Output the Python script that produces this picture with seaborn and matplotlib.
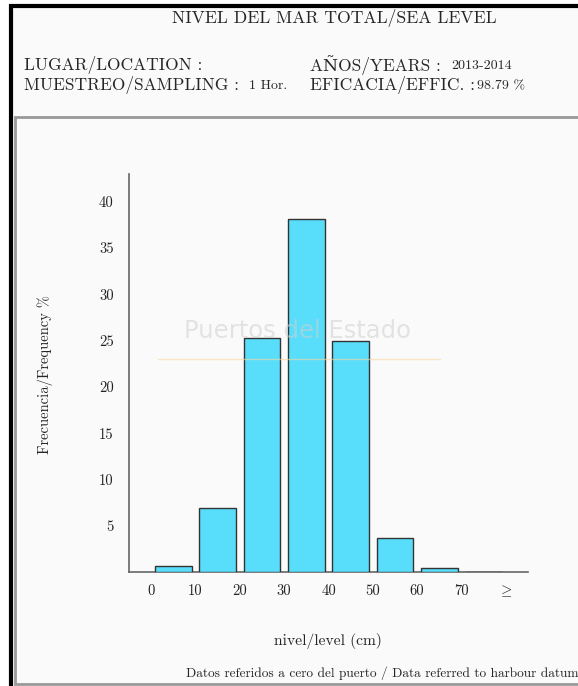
import matplotlib
matplotlib.use("Agg")
import matplotlib.pyplot as plt
import matplotlib.patches as mpatches
import matplotlib.lines as mlines
import pandas as pd
import seaborn as sns

# level bins (cm) and frequency (%)
bin_centers = [5, 15, 25, 35, 45, 55, 65, 75]
frequency = [0.62, 6.96, 25.25, 38.1, 24.97, 3.69, 0.43, 0.05]
tick_positions = [0, 10, 20, 30, 40, 50, 60, 70, 80]
tick_labels = ["0", "10", "20", "30", "40", "50", "60", "70", r"$\geq$"]
y_ticks = [5, 10, 15, 20, 25, 30, 35, 40]

title = "NIVEL DEL MAR TOTAL/SEA LEVEL"
years = "2013-2014"
sampling = "1 Hor."
efficiency = "98.79 %"


def main():
    sns.set_theme(style="white")
    plt.rcParams["font.family"] = ["cmr10", "DejaVu Serif"]
    plt.rcParams["mathtext.fontset"] = "cm"
    plt.rcParams["axes.unicode_minus"] = False

    bg = "#fbfafa"
    fig = plt.figure(figsize=(5.78, 6.86), dpi=100, facecolor="white")
    W, H = 578, 686

    def fx(x):
        return x / W

    def fy(y):
        return 1 - y / H

    # outer black frame and inner grey frame
    fig.patches.append(mpatches.Rectangle((fx(11), fy(700)), 1.2, fy(6) - fy(700),
                                          transform=fig.transFigure, facecolor=bg,
                                          edgecolor="black", linewidth=3, zorder=-2))
    fig.patches.append(mpatches.Rectangle((fx(15), fy(684)), 1.2, fy(117) - fy(684),
                                          transform=fig.transFigure, facecolor=bg,
                                          edgecolor="#999999", linewidth=2, zorder=-1))

    big = 12.5
    small = 10
    fig.text(fx(334), fy(18), title, ha="center", va="center", fontsize=12.7)
    fig.text(fx(24), fy(65), "LUGAR/LOCATION :", ha="left", va="center", fontsize=big)
    fig.text(fx(24), fy(85), "MUESTREO/SAMPLING :", ha="left", va="center", fontsize=big)
    fig.text(fx(249), fy(86), sampling, ha="left", va="center", fontsize=small)
    fig.text(fx(310), fy(65), "AÑOS/YEARS :", ha="left", va="center", fontsize=big)
    fig.text(fx(451), fy(66), years, ha="left", va="center", fontsize=small)
    fig.text(fx(310), fy(85), "EFICACIA/EFFIC. :", ha="left", va="center", fontsize=big)
    fig.text(fx(477), fy(86), efficiency, ha="left", va="center", fontsize=small)

    ax = fig.add_axes([fx(129), fy(572), fx(528) - fx(129), fy(174) - fy(572)])
    ax.set_facecolor("none")

    df = pd.DataFrame({"level": bin_centers, "freq": frequency})
    sns.barplot(data=df, x="level", y="freq", native_scale=True, width=0.83,
                color="#58ddfb", saturation=1, edgecolor="#333333", linewidth=1.0,
                ax=ax, zorder=3)

    ax.set_xlim(-5, 85)
    ax.set_ylim(0, 43)
    ax.set_xticks(tick_positions)
    ax.set_xticklabels(tick_labels, fontsize=10.5)
    ax.set_yticks(y_ticks)
    ax.set_yticklabels([str(v) for v in y_ticks], fontsize=10.5)
    ax.tick_params(axis="both", direction="out", length=2.5, width=1, color="#666666",
                   labelcolor="#222222")
    ax.tick_params(axis="x", pad=6)
    ax.tick_params(axis="y", pad=8.5)
    sns.despine(ax=ax)
    for side in ["left", "bottom"]:
        ax.spines[side].set_color("#666666")
        ax.spines[side].set_linewidth(1.2)

    ax.set_xlabel("")
    ax.set_ylabel("")
    fig.text(fx(328), fy(641), "nivel/level (cm)", ha="center", va="center", fontsize=11.2)
    fig.text(fx(45), fy(375), "Frecuencia/Frequency %", ha="center", va="center",
             rotation=90, fontsize=10.5)
    fig.text(fx(186), fy(673), "Datos referidos a cero del puerto / Data referred to harbour datum",
             ha="left", va="center", fontsize=9.6)

    # faint watermark
    fig.text(fx(297), fy(331), "Puertos del Estado", ha="center", va="center",
             fontsize=17.5, color="#d0d0d0", alpha=0.55, family="DejaVu Sans", zorder=5)
    fig.lines.append(mlines.Line2D([fx(158), fx(440)], [fy(359), fy(359)],
                                   transform=fig.transFigure, color="#f6d9a0",
                                   alpha=0.6, linewidth=1, zorder=5))

    fig.savefig("out.png", dpi=100, facecolor=fig.get_facecolor())


if __name__ == "__main__":
    main()
